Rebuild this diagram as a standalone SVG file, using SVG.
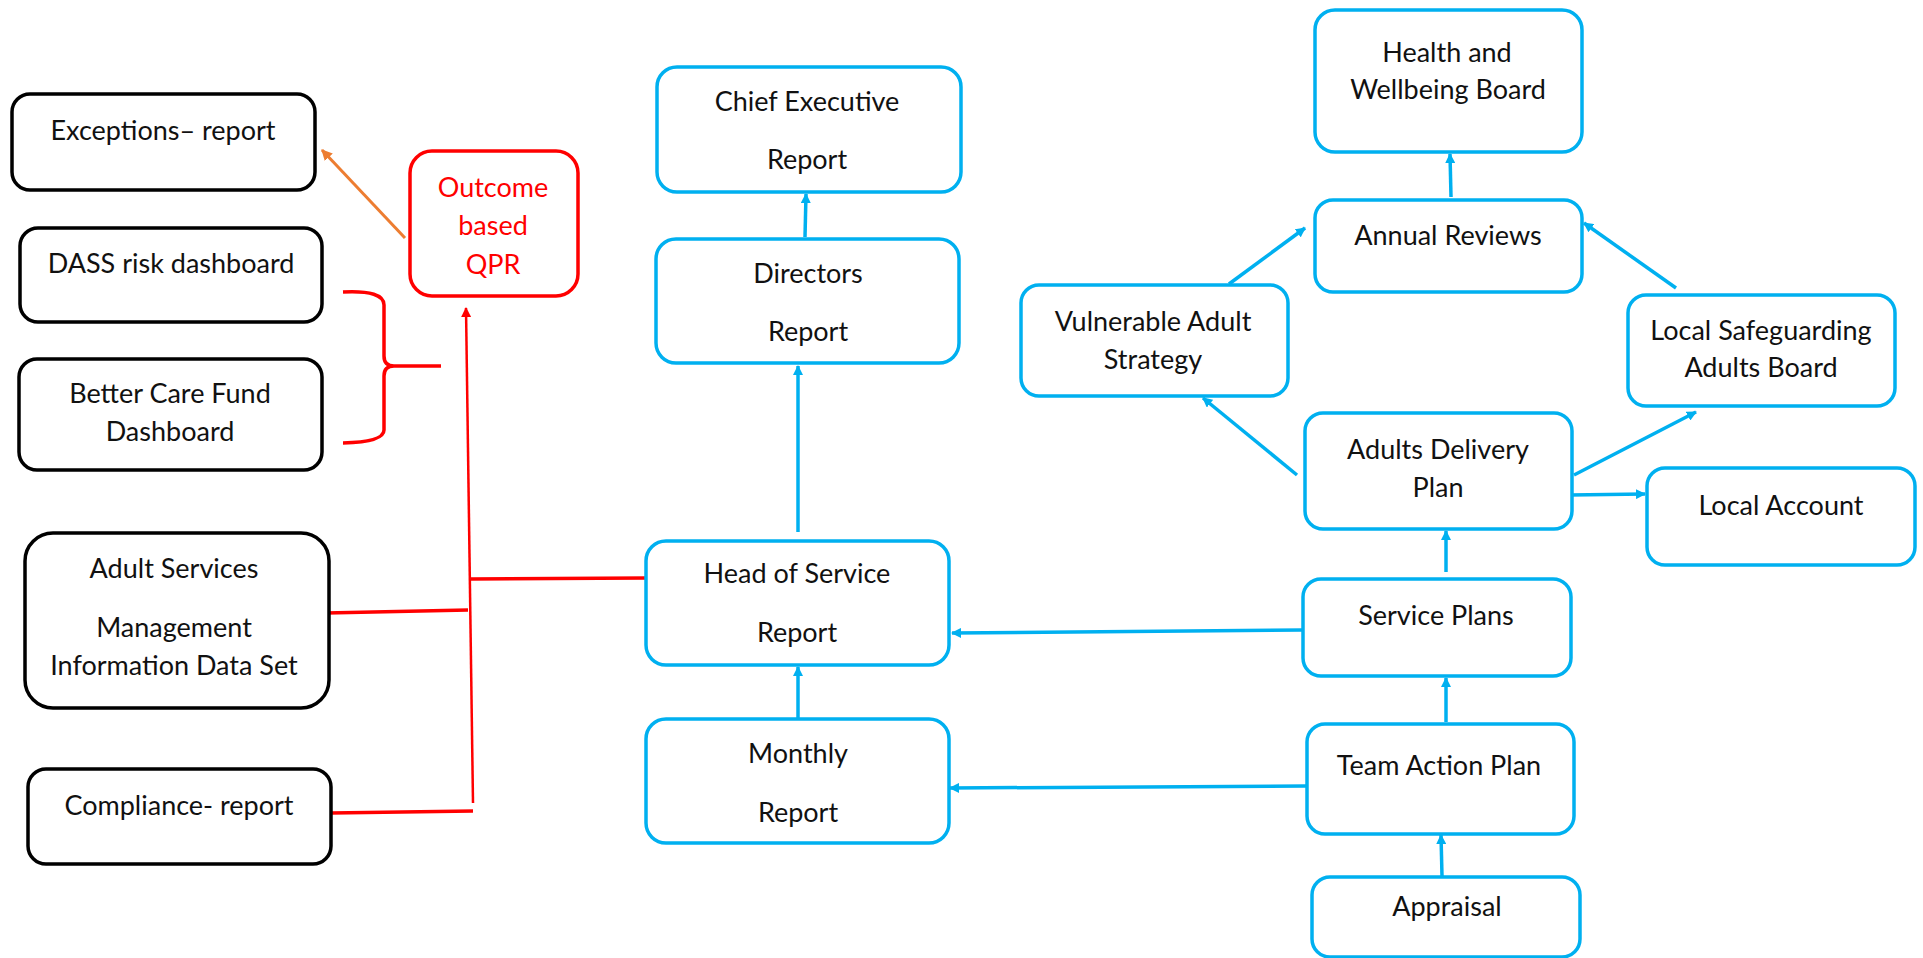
<svg xmlns="http://www.w3.org/2000/svg" width="1923" height="958" viewBox="0 0 1923 958">
<style>
  .bk { fill: #fff; stroke: #000; stroke-width: 3.5; }
  .bl { fill: #fff; stroke: #00B0F0; stroke-width: 3.5; }
  .rd { fill: #fff; stroke: #FF0000; stroke-width: 3.5; }
  text { font-family: Lato, "Liberation Sans", sans-serif; font-size: 27px; fill: #111; text-anchor: middle; }
  text.r { fill: #FF0000; }
  .cb { fill: none; stroke: #00B0F0; stroke-width: 3.5; }
  .cr { fill: none; stroke: #FF0000; stroke-width: 3.5; }
  .crt { fill: none; stroke: #FF0000; stroke-width: 2.5; }
  .co { fill: none; stroke: #ED7D31; stroke-width: 3; }
</style>
<defs>
  <marker id="ab" viewBox="0 0 10 10" refX="9" refY="5" markerWidth="10" markerHeight="10" markerUnits="userSpaceOnUse" orient="auto"><path d="M0,0 L10,5 L0,10 Z" fill="#00B0F0"/></marker>
  <marker id="ar" viewBox="0 0 10 10" refX="9" refY="5" markerWidth="10" markerHeight="10" markerUnits="userSpaceOnUse" orient="auto"><path d="M0,0 L10,5 L0,10 Z" fill="#FF0000"/></marker>
  <marker id="ao" viewBox="0 0 10 10" refX="9" refY="5" markerWidth="11" markerHeight="11" markerUnits="userSpaceOnUse" orient="auto"><path d="M0,0 L10,5 L0,10 Z" fill="#ED7D31"/></marker>
</defs>
<rect width="1923" height="958" fill="#fff"/>

<g id="connectors">
  <!-- blue -->
  <line class="cb" x1="805" y1="237" x2="806" y2="194" marker-end="url(#ab)"/>
  <line class="cb" x1="798" y1="532" x2="798" y2="366" marker-end="url(#ab)"/>
  <line class="cb" x1="798" y1="718" x2="798" y2="667" marker-end="url(#ab)"/>
  <line class="cb" x1="1302" y1="630" x2="952" y2="633" marker-end="url(#ab)"/>
  <line class="cb" x1="1306" y1="786" x2="950" y2="788" marker-end="url(#ab)"/>
  <line class="cb" x1="1442" y1="876" x2="1441" y2="835" marker-end="url(#ab)"/>
  <line class="cb" x1="1446" y1="722" x2="1446" y2="678" marker-end="url(#ab)"/>
  <line class="cb" x1="1446" y1="572" x2="1446" y2="531" marker-end="url(#ab)"/>
  <line class="cb" x1="1297" y1="475" x2="1203" y2="398" marker-end="url(#ab)"/>
  <line class="cb" x1="1229" y1="284" x2="1305" y2="228" marker-end="url(#ab)"/>
  <line class="cb" x1="1451" y1="197" x2="1450" y2="154" marker-end="url(#ab)"/>
  <line class="cb" x1="1676" y1="288" x2="1584" y2="223" marker-end="url(#ab)"/>
  <line class="cb" x1="1574" y1="475" x2="1696" y2="412" marker-end="url(#ab)"/>
  <line class="cb" x1="1570" y1="495" x2="1645" y2="494" marker-end="url(#ab)"/>
  <!-- red -->
  <line class="crt" x1="473" y1="803" x2="466" y2="308" marker-end="url(#ar)"/>
  <line class="cr" x1="646" y1="578" x2="470" y2="579"/>
  <line class="cr" x1="326" y1="613" x2="468" y2="610"/>
  <line class="cr" x1="331" y1="813" x2="473" y2="811"/>
  <path class="cr" d="M343,292 Q384,290 384,305 L384,356 Q384,366 394,366 L441,366 M394,366 Q384,366 384,376 L384,430 Q384,442 343,443"/>
  <!-- orange -->
  <line class="co" x1="405" y1="238" x2="322" y2="150" marker-end="url(#ao)"/>
</g>

<g id="exceptions"><rect class="bk" x="12" y="94" width="303" height="96" rx="18"/><text x="163" y="140">Exceptions– report</text></g>
<g id="qpr"><rect class="rd" x="410" y="151" width="168" height="145" rx="22"/><text class="r" x="493" y="197">Outcome</text><text class="r" x="493" y="235">based</text><text class="r" x="493" y="274">QPR</text></g>
<g id="dass"><rect class="bk" x="20" y="228" width="302" height="94" rx="18"/><text x="171" y="273">DASS risk dashboard</text></g>
<g id="bcf"><rect class="bk" x="19" y="359" width="303" height="111" rx="18"/><text x="170" y="403">Better Care Fund</text><text x="170" y="441">Dashboard</text></g>
<g id="asmids"><rect class="bk" x="25" y="533" width="304" height="175" rx="28"/><text x="174" y="578">Adult Services</text><text x="174" y="637">Management</text><text x="174" y="675">Information Data Set</text></g>
<g id="compliance"><rect class="bk" x="28" y="769" width="303" height="95" rx="18"/><text x="179" y="815">Compliance- report</text></g>

<g id="chief"><rect class="bl" x="657" y="67" width="304" height="125" rx="20"/><text x="807" y="111">Chief Executive</text><text x="807" y="169">Report</text></g>
<g id="directors"><rect class="bl" x="656" y="239" width="303" height="124" rx="20"/><text x="808" y="283">Directors</text><text x="808" y="341">Report</text></g>
<g id="hos"><rect class="bl" x="646" y="541" width="303" height="124" rx="20"/><text x="797" y="583">Head of Service</text><text x="797" y="642">Report</text></g>
<g id="monthly"><rect class="bl" x="646" y="719" width="303" height="124" rx="20"/><text x="798" y="763">Monthly</text><text x="798" y="822">Report</text></g>

<g id="hwb"><rect class="bl" x="1315" y="10" width="267" height="142" rx="20"/><text x="1447" y="62">Health and</text><text x="1448" y="99">Wellbeing Board</text></g>
<g id="annual"><rect class="bl" x="1315" y="200" width="267" height="92" rx="18"/><text x="1448" y="245">Annual Reviews</text></g>
<g id="vas"><rect class="bl" x="1021" y="285" width="267" height="111" rx="18"/><text x="1153" y="331">Vulnerable Adult</text><text x="1153" y="369">Strategy</text></g>
<g id="lsab"><rect class="bl" x="1628" y="295" width="267" height="111" rx="18"/><text x="1761" y="340">Local Safeguarding</text><text x="1761" y="377">Adults Board</text></g>
<g id="adp"><rect class="bl" x="1305" y="413" width="267" height="116" rx="18"/><text x="1438" y="459">Adults Delivery</text><text x="1438" y="497">Plan</text></g>
<g id="localaccount"><rect class="bl" x="1647" y="468" width="268" height="97" rx="18"/><text x="1781" y="515">Local Account</text></g>
<g id="serviceplans"><rect class="bl" x="1303" y="579" width="268" height="97" rx="18"/><text x="1436" y="625">Service Plans</text></g>
<g id="teamaction"><rect class="bl" x="1307" y="724" width="267" height="110" rx="18"/><text x="1439" y="775">Team Action Plan</text></g>
<g id="appraisal"><rect class="bl" x="1312" y="877" width="268" height="80" rx="18"/><text x="1447" y="916">Appraisal</text></g>
</svg>
